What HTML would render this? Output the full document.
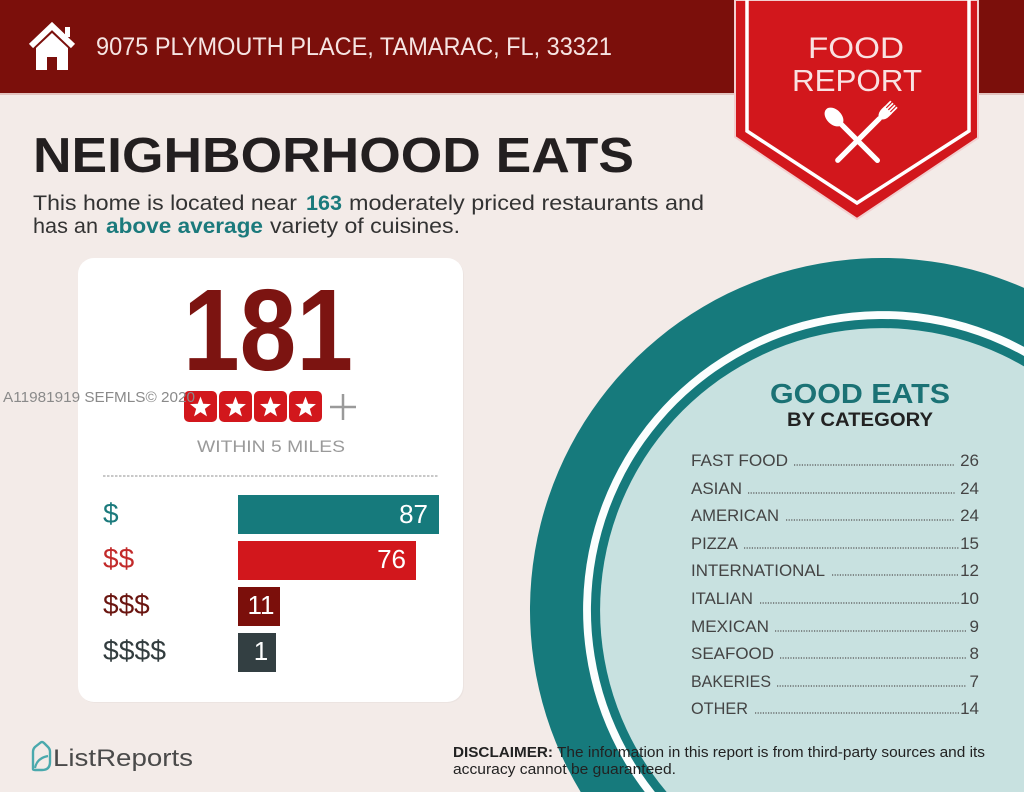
<!DOCTYPE html>
<html><head><meta charset="utf-8"><style>
html,body{margin:0;padding:0;background:#f3ebe8;width:1024px;height:792px;overflow:hidden;}
svg{display:block;}
text{font-family:"Liberation Sans",sans-serif;}
</style></head><body>
<svg width="1024" height="792" viewBox="0 0 1024 792" xmlns="http://www.w3.org/2000/svg">
<defs>
<polygon id="st" points="0,-11 2.7,-3.72 10.46,-3.4 4.37,1.42 6.47,8.9 0,4.6 -6.47,8.9 -4.37,1.42 -10.46,-3.4 -2.7,-3.72" fill="#fff"/>
</defs>
<rect width="1024" height="792" fill="#f3ebe8"/>
<!-- circle (clipped to frame) -->
<path d="M580.7,792 A352,352 0 0,1 1024,287.9 L1024,792 Z" fill="#167a7c"/>
<path d="M644.8,792 A299,299 0 0,1 1024,346.9 L1024,792 Z" fill="#fbfefe"/>
<path d="M654.9,792 A291,291 0 0,1 1024,356 L1024,792 Z" fill="#167a7c"/>
<path d="M666.6,792 A282,282 0 0,1 1024,366.4 L1024,792 Z" fill="#c8e1e0"/>
<!-- header -->
<rect x="0" y="0" width="1024" height="93" fill="#7b0f0b"/>
<rect x="0" y="93" width="1024" height="2" fill="#e2c3bf"/>
<!-- house icon -->
<polyline points="31,46 52,26 73,46" fill="none" stroke="#fff" stroke-width="6" stroke-linejoin="miter"/>
<rect x="65" y="27" width="5" height="10" fill="#fff"/>
<path d="M36,48 L52,33 L68,48 L68,70 L57,70 L57,57 L47,57 L47,70 L36,70 Z" fill="#fff"/>
<text x="96" y="55" font-size="25" fill="#f6e4e2" textLength="516" lengthAdjust="spacingAndGlyphs">9075 PLYMOUTH PLACE, TAMARAC, FL, 33321</text>
<!-- badge -->
<polygon points="735,0 978,0 978,138 857,219 735,137" fill="#d2171c" stroke="#f2cfcf" stroke-width="2"/>
<polyline points="747,0 747,131 857,203 969,131 969,0" fill="none" stroke="#fff" stroke-width="3.5"/>
<text x="856" y="58" font-size="30" fill="#f9e2e2" text-anchor="middle" textLength="96" lengthAdjust="spacingAndGlyphs">FOOD</text>
<text x="857" y="91" font-size="31" fill="#f9e2e2" text-anchor="middle" textLength="130" lengthAdjust="spacingAndGlyphs">REPORT</text>
<!-- fork -->
<g transform="translate(884,114) rotate(45)" fill="#fff">
<rect x="-5" y="-14" width="1.7" height="10"/>
<rect x="-2.1" y="-14" width="1.7" height="10"/>
<rect x="0.8" y="-14" width="1.7" height="10"/>
<rect x="3.6" y="-14" width="1.7" height="10"/>
<path d="M-5.2,-6 L5.3,-6 L5.3,-2 Q5.3,3 1.8,6 L-1.8,6 Q-5.2,3 -5.2,-2 Z"/>
<rect x="-2.6" y="4" width="5.2" height="64" rx="2.6"/>
</g>
<!-- spoon -->
<g transform="translate(834,117) rotate(-45)" fill="#fff">
<ellipse cx="0" cy="0" rx="7.5" ry="11"/>
<rect x="-2.6" y="6" width="5.2" height="58" rx="2.6"/>
</g>
<!-- title -->
<text x="33" y="172" font-size="49" font-weight="bold" fill="#231f20" textLength="601" lengthAdjust="spacingAndGlyphs">NEIGHBORHOOD EATS</text>
<text x="33" y="210" font-size="21" fill="#333" textLength="264" lengthAdjust="spacingAndGlyphs">This home is located near</text>
<text x="306" y="210" font-size="21" font-weight="bold" fill="#1b7a7c" textLength="36" lengthAdjust="spacingAndGlyphs">163</text>
<text x="349" y="210" font-size="21" fill="#333" textLength="355" lengthAdjust="spacingAndGlyphs">moderately priced restaurants and</text>
<text x="33" y="233" font-size="21" fill="#333" textLength="65" lengthAdjust="spacingAndGlyphs">has an</text>
<text x="106" y="233" font-size="21" font-weight="bold" fill="#1b7a7c" textLength="157" lengthAdjust="spacingAndGlyphs">above average</text>
<text x="270" y="233" font-size="21" fill="#333" textLength="190" lengthAdjust="spacingAndGlyphs">variety of cuisines.</text>
<!-- card -->
<rect x="79" y="259" width="385" height="444" rx="16" fill="#ece4e1"/>
<rect x="78" y="258" width="385" height="444" rx="16" fill="#ffffff"/>
<text x="183" y="370" font-size="116" font-weight="bold" fill="#7c1411" textLength="170" lengthAdjust="spacingAndGlyphs">181</text>
<g>
<rect x="184" y="391" width="33" height="31" rx="5" fill="#d2171c"/>
<rect x="219" y="391" width="33" height="31" rx="5" fill="#d2171c"/>
<rect x="254" y="391" width="33" height="31" rx="5" fill="#d2171c"/>
<rect x="289" y="391" width="33" height="31" rx="5" fill="#d2171c"/>
<use href="#st" x="200.5" y="407.5"/>
<use href="#st" x="235.5" y="407.5"/>
<use href="#st" x="270.5" y="407.5"/>
<use href="#st" x="305.5" y="407.5"/>
</g>
<line x1="330" y1="407" x2="356" y2="407" stroke="#9a9a9a" stroke-width="2.5"/>
<line x1="343" y1="394" x2="343" y2="420" stroke="#9a9a9a" stroke-width="2.5"/>
<text x="197" y="452" font-size="17" fill="#9a9a9a" textLength="148" lengthAdjust="spacingAndGlyphs">WITHIN 5 MILES</text>
<text x="3" y="402" font-size="15" fill="#8a8a8a" textLength="192" lengthAdjust="spacingAndGlyphs">A11981919  SEFMLS© 2020</text>
<line x1="103" y1="476" x2="439" y2="476" stroke="#b5b5b5" stroke-width="1.5" stroke-dasharray="2.5,1.5"/>
<!-- bars -->
<rect x="238" y="495" width="201" height="39" fill="#167a7c"/>
<rect x="238" y="541" width="178" height="39" fill="#d2171c"/>
<rect x="238" y="587" width="42" height="39" fill="#7b0f0b"/>
<rect x="238" y="633" width="38" height="39" fill="#333f42"/>
<text x="428" y="523" font-size="26" fill="#fff" text-anchor="end">87</text>
<text x="406" y="568" font-size="26" fill="#fff" text-anchor="end">76</text>
<text x="261" y="614" font-size="26" fill="#fff" text-anchor="middle">11</text>
<text x="261" y="660" font-size="26" fill="#fff" text-anchor="middle">1</text>
<text x="103" y="523" font-size="28" fill="#1b7a7c">$</text>
<text x="103" y="568" font-size="28" fill="#c22a2a">$$</text>
<text x="103" y="614" font-size="28" fill="#6a1510">$$$</text>
<text x="103" y="660" font-size="28" fill="#333d3f" textLength="63" lengthAdjust="spacingAndGlyphs">$$$$</text>
<!-- good eats -->
<text x="770" y="403" font-size="28" font-weight="bold" fill="#1b7275" textLength="180" lengthAdjust="spacingAndGlyphs">GOOD EATS</text>
<text x="787" y="426" font-size="19" font-weight="bold" fill="#222" textLength="146" lengthAdjust="spacingAndGlyphs">BY CATEGORY</text>
<g font-size="17" fill="#444">
<text x="691" y="466" textLength="97" lengthAdjust="spacingAndGlyphs">FAST FOOD</text>
<text x="691" y="494" textLength="51" lengthAdjust="spacingAndGlyphs">ASIAN</text>
<text x="691" y="521" textLength="88" lengthAdjust="spacingAndGlyphs">AMERICAN</text>
<text x="691" y="549" textLength="47" lengthAdjust="spacingAndGlyphs">PIZZA</text>
<text x="691" y="576" textLength="134" lengthAdjust="spacingAndGlyphs">INTERNATIONAL</text>
<text x="691" y="604" textLength="62" lengthAdjust="spacingAndGlyphs">ITALIAN</text>
<text x="691" y="632" textLength="78" lengthAdjust="spacingAndGlyphs">MEXICAN</text>
<text x="691" y="659" textLength="83" lengthAdjust="spacingAndGlyphs">SEAFOOD</text>
<text x="691" y="687" textLength="80" lengthAdjust="spacingAndGlyphs">BAKERIES</text>
<text x="691" y="714" textLength="57" lengthAdjust="spacingAndGlyphs">OTHER</text>
</g>
<g font-size="17" fill="#444" text-anchor="end">
<text x="979" y="466">26</text>
<text x="979" y="494">24</text>
<text x="979" y="521">24</text>
<text x="979" y="549">15</text>
<text x="979" y="576">12</text>
<text x="979" y="604">10</text>
<text x="979" y="632">9</text>
<text x="979" y="659">8</text>
<text x="979" y="687">7</text>
<text x="979" y="714">14</text>
</g>
<g stroke="#555" stroke-width="1.3" stroke-dasharray="1.2,1.4">
<line x1="794" y1="465" x2="954" y2="465"/>
<line x1="748" y1="493" x2="955" y2="493"/>
<line x1="786" y1="520" x2="955" y2="520"/>
<line x1="744" y1="548" x2="959" y2="548"/>
<line x1="832" y1="575" x2="959" y2="575"/>
<line x1="760" y1="603" x2="959" y2="603"/>
<line x1="775" y1="631" x2="966" y2="631"/>
<line x1="780" y1="658" x2="966" y2="658"/>
<line x1="777" y1="686" x2="966" y2="686"/>
<line x1="755" y1="713" x2="959" y2="713"/>
</g>
<!-- footer -->
<path d="M33,769 L33,752 Q33,749 35,747 L40,743 Q42,741 44,743 L48,747 Q50,749 50,752 L50,762 Q50,770 42,770 L35,770 Q33,770 33,769 Z" fill="none" stroke="#4aa9ad" stroke-width="2.4"/>
<path d="M35,768 Q37,758 48,756" fill="none" stroke="#4aa9ad" stroke-width="2.2"/>
<text x="53" y="766" font-size="24" fill="#4a4a4a" textLength="140" lengthAdjust="spacingAndGlyphs">ListReports</text>
<text x="453" y="757" font-size="14.5" font-weight="bold" fill="#222" textLength="100" lengthAdjust="spacingAndGlyphs">DISCLAIMER:</text>
<text x="557" y="757" font-size="14.5" fill="#222" textLength="428" lengthAdjust="spacingAndGlyphs">The information in this report is from third-party sources and its</text>
<text x="453" y="774" font-size="14.5" fill="#222" textLength="223" lengthAdjust="spacingAndGlyphs">accuracy cannot be guaranteed.</text>
</svg>
</body></html>
